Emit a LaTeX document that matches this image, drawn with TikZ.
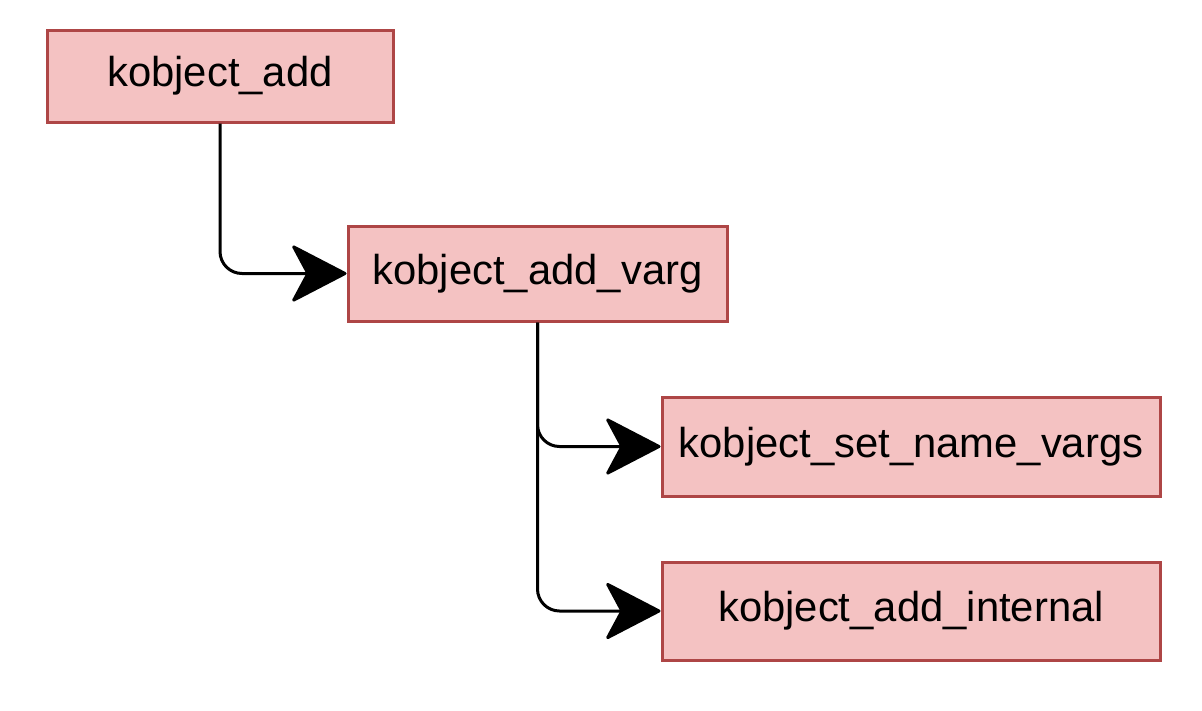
\documentclass[tikz,border=0pt]{standalone}
\usepackage{fontspec}
\setmainfont{Liberation Sans}
\usetikzlibrary{arrows.meta}
\definecolor{boxfill}{HTML}{F4C2C2}
\definecolor{boxline}{HTML}{AE4646}
\begin{document}
\begin{tikzpicture}[x=1pt,y=-1pt,
  fnbox/.style={draw=boxline, fill=boxfill, line width=3pt, inner sep=0pt, anchor=center,
    font=\fontsize{41.8}{50}\selectfont},
  conn/.style={line width=3pt, rounded corners=22pt,
    -{Stealth[length=58pt, width=60pt, inset=16pt, round=false]}}]
\useasboundingbox (0,0) rectangle (1202,710);
\node[fnbox, minimum width=346pt, minimum height=92pt] (b1) at (220,76) {kobject\_add};
\node[fnbox, minimum width=379pt, minimum height=95pt] (b2) at (537.5,273.5) {kobject\_add\_varg};
\node[fnbox, minimum width=498pt, minimum height=99pt] (b3) at (911,446.5) {kobject\_set\_name\_vargs};
\node[fnbox, minimum width=498pt, minimum height=98pt] (b4) at (911,611) {kobject\_add\_internal};
\draw[conn] (b1.south) |- (b2.west);
\draw[conn] (b2.south) |- (b3.west);
\draw[conn] (b2.south) |- (b4.west);
\end{tikzpicture}
\end{document}
